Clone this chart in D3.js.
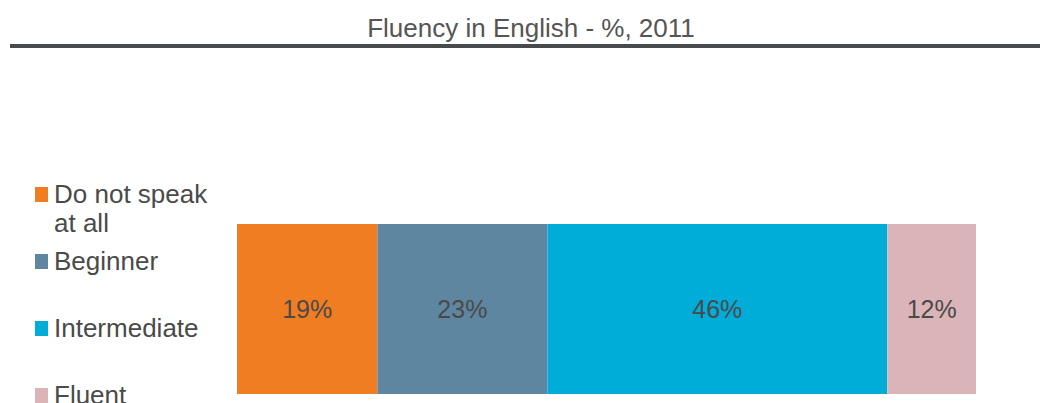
<!DOCTYPE html>
<html><head><meta charset="utf-8">
<script src="https://cdn.jsdelivr.net/npm/d3@7"></script>
<style>body{margin:0;background:#fff}svg{display:block}</style>
</head><body>
<script>
const categories = ["Do not speak at all", "Beginner", "Intermediate", "Fluent"];
const legendLines = [["Do not speak", "at all"], ["Beginner"], ["Intermediate"], ["Fluent"]];
const values = [19, 23, 46, 12];
const colors = ["#F07D22", "#5E86A0", "#00ACD8", "#DBB4B8"];
const title = "Fluency in English - %, 2011";

const W = 1040, H = 403;
const svg = d3.select("body").append("svg").attr("width", W).attr("height", H)
  .style("font-family", "'Liberation Sans', Arial, sans-serif");

svg.append("text").attr("x", 531).attr("y", 37).attr("text-anchor", "middle")
  .attr("font-size", 26).attr("fill", "#555").text(title);
svg.append("rect").attr("x", 10).attr("y", 44).attr("width", W - 10).attr("height", 4).attr("fill", "#474B4E");

const x = d3.scaleLinear().domain([0, 100]).range([237, 976]);
const y = d3.scaleBand().domain(["2011"]).range([224, 394]).padding(0);

let cum = 0;
const stacked = values.map((v, i) => { const s = {cat: categories[i], v, x0: cum, x1: cum + v, c: colors[i]}; cum += v; return s; });

svg.selectAll("rect.seg").data(stacked).join("rect").attr("class", "seg")
  .attr("x", d => x(d.x0)).attr("width", d => x(d.x1) - x(d.x0))
  .attr("y", y("2011")).attr("height", y.bandwidth()).attr("fill", d => d.c);

svg.selectAll("text.lab").data(stacked).join("text").attr("class", "lab")
  .attr("x", d => (x(d.x0) + x(d.x1)) / 2).attr("y", y("2011") + y.bandwidth() / 2 + 9)
  .attr("text-anchor", "middle").attr("font-size", 25).attr("fill", "#4A4A4A")
  .text(d => d.v + "%");

const ly = d3.scaleBand().domain(categories).range([136, 404]).paddingInner(0);
const lg = svg.selectAll("g.leg").data(categories).join("g").attr("class", "leg")
  .attr("transform", c => `translate(0,${ly(c) + ly.bandwidth()})`);
lg.append("rect").attr("x", 35).attr("y", -16).attr("width", 13).attr("height", 15)
  .attr("fill", (c, i) => colors[i]);
lg.each(function(c, i) {
  const t = d3.select(this).append("text").attr("x", 54).attr("y", 0).attr("font-size", 26).attr("fill", "#4A4A4A");
  legendLines[i].forEach((ln, j) => t.append("tspan").attr("x", 54).attr("dy", j ? 29 : 0).text(ln));
});
</script>
</body></html>
